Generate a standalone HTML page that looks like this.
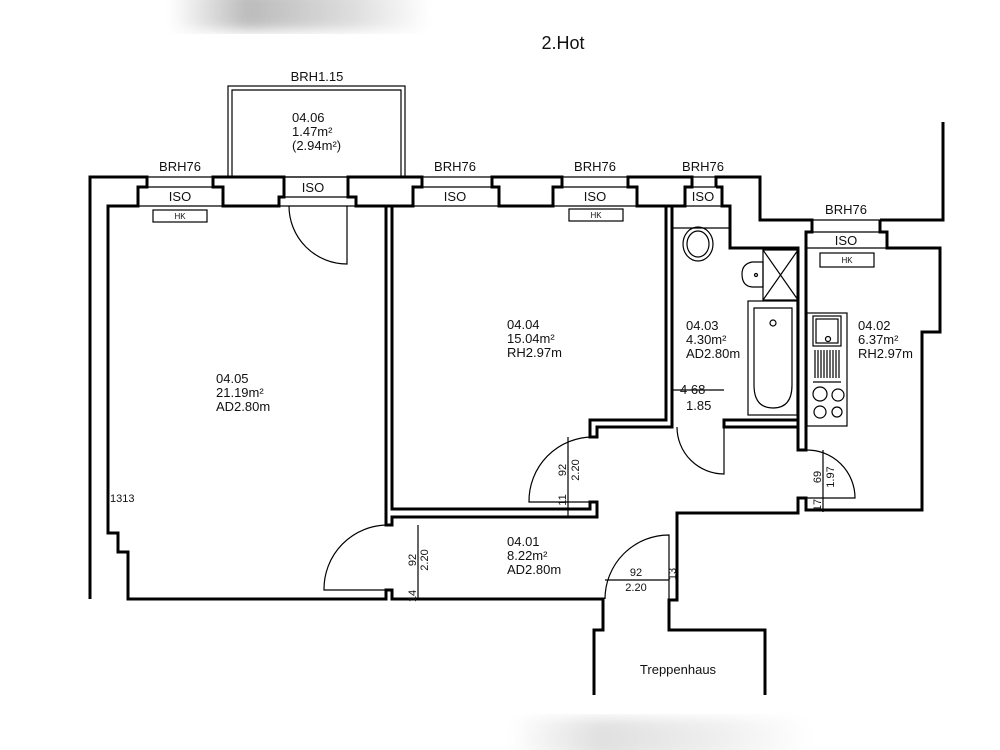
<!DOCTYPE html>
<html><head><meta charset="utf-8"><style>
html,body{margin:0;padding:0;background:#fff;}
svg{display:block;}
text{font-family:"Liberation Sans Narrow","Liberation Sans",sans-serif;fill:#111;}
</style></head><body>
<svg width="1000" height="750" viewBox="0 0 1000 750" xmlns="http://www.w3.org/2000/svg" font-size="13">
<defs>
<linearGradient id="g1" x1="0" x2="1"><stop offset="0" stop-color="#fff"/><stop offset="0.3" stop-color="#bbb"/><stop offset="0.7" stop-color="#ddd"/><stop offset="1" stop-color="#fff"/></linearGradient>
<filter id="bl"><feGaussianBlur stdDeviation="6"/></filter>
</defs>
<rect x="170" y="-10" width="260" height="40" fill="url(#g1)" filter="url(#bl)"/>
<rect x="510" y="718" width="300" height="40" fill="url(#g1)" filter="url(#bl)" opacity="0.45"/>

<g fill="none" stroke="#000" stroke-width="3" stroke-linejoin="miter">
<polyline points="90,599 90,177 147,177 147,187 138,187 138,206 108,206 108,533 118,533 118,552 128,552 128,599 386,599 386,590 392,590 392,599 603,599 603,630 594,630 594,695"/>
<polygon points="213,177 284,177 284,197 279,197 279,206 223,206 223,187 213,187"/>
<polygon points="348,177 422,177 422,187 413,187 413,206 356,206 356,197 348,197"/>
<polygon points="492,177 562,177 562,187 553,187 553,206 499,206 499,187 492,187"/>
<polygon points="628,177 692,177 692,187 685,187 685,206 637,206 637,187 628,187"/>
<polyline points="716,187 716,177 760,177 760,220 812,220 812,232 806,232 806,450 798,450 798,248 730,248 730,206 722,206 722,187 716,187"/>
<polyline points="880,220 943,220 943,122"/>
<polyline points="880,220 880,232 887,232 887,248 940,248 940,332 922,332 922,510 806,510 806,498 798,498 798,513 677,513 677,600 669,600 669,630 765,630 765,695"/>
<polyline points="798,420 724,420 724,427 798,427"/>
<polyline points="386,206 386,525 392,525 392,517 597,517 597,502 590,502 590,509 392,509 392,206"/>
<polyline points="666,206 666,420 590,420 590,437 597,437 597,427 672,427 672,206"/>
</g>
<g fill="none" stroke="#000" stroke-width="1.2">
<rect x="228" y="86" width="177" height="91"/>
<polyline points="232,177 232,90 401,90 401,177"/>
<path d="M147,177H213M147,187H213M138,206H223"/>
<path d="M284,177H348M284,197H348M279,206H356"/>
<path d="M422,177H492M422,187H492M413,206H499"/>
<path d="M562,177H628M562,187H628M553,206H637"/>
<path d="M692,177H716M692,187H716M685,206H722M672,228H730"/>
<path d="M812,220H880M812,232H880M806,248H887"/>
<rect x="153" y="210" width="54" height="12"/>
<rect x="569" y="209" width="54" height="12"/>
<rect x="820" y="253" width="54" height="14"/>
<path d="M289,206 A58,58 0 0 0 347,264 V206"/>
<path d="M388,525 A64,64 0 0 0 324,590 H388"/>
<path d="M593,437 A64,64 0 0 0 529,502 H593"/>
<path d="M677,427 A47,47 0 0 0 724,474 V427"/>
<path d="M806,450 A48,48 0 0 1 855,498 H806"/>
<path d="M605,599 A64,64 0 0 1 669,535 V599"/>
<path d="M568,437V517M418,525V599M605,580H669M823,450V512M672,390H724"/>
<ellipse cx="698" cy="244" rx="15" ry="17"/>
<ellipse cx="698" cy="244" rx="11" ry="13"/>
<path d="M763,262 H752 Q742,264 742,274 Q742,286 752,287 H763 Z"/>
<circle cx="756" cy="275" r="1.5"/>
<rect x="763" y="250" width="35" height="50"/>
<path d="M763,250L798,300M798,250L763,300"/>
<rect x="748" y="301" width="49" height="114"/>
<path d="M754,308 H792 V385 Q792,408 773,408 Q754,408 754,385 Z"/>
<circle cx="773" cy="323" r="3"/>
<rect x="807" y="313" width="40" height="113"/>
<rect x="813" y="316" width="28" height="30"/>
<rect x="816" y="319" width="22" height="24"/>
<circle cx="828" cy="339" r="2.5"/>
<path d="M815,350V378M818,350V378M821,350V378M824,350V378M827,350V378M830,350V378M833,350V378M836,350V378M839,350V378M813,382H841"/>
<circle cx="820" cy="394" r="7"/><circle cx="838" cy="395" r="6"/>
<circle cx="820" cy="412" r="6"/><circle cx="837" cy="412" r="5"/>
</g>

<text x="563" y="49" style="font-size:18px" text-anchor="middle">2.Hot</text>
<text x="317" y="81" text-anchor="middle">BRH1.15</text>
<text x="292" y="122">04.06</text><text x="292" y="136">1.47m²</text><text x="292" y="150">(2.94m²)</text>
<text x="180" y="171" text-anchor="middle">BRH76</text>
<text x="455" y="171" text-anchor="middle">BRH76</text>
<text x="595" y="171" text-anchor="middle">BRH76</text>
<text x="703" y="171" text-anchor="middle">BRH76</text>
<text x="846" y="214" text-anchor="middle">BRH76</text>
<text x="180" y="201" text-anchor="middle">ISO</text>
<text x="313" y="192" text-anchor="middle">ISO</text>
<text x="455" y="201" text-anchor="middle">ISO</text>
<text x="595" y="201" text-anchor="middle">ISO</text>
<text x="703" y="201" text-anchor="middle">ISO</text>
<text x="846" y="245" text-anchor="middle">ISO</text>
<text x="180" y="219" style="font-size:8px" text-anchor="middle">HK</text>
<text x="596" y="218" style="font-size:8px" text-anchor="middle">HK</text>
<text x="847" y="263" style="font-size:8px" text-anchor="middle">HK</text>
<text x="216" y="383">04.05</text><text x="216" y="397">21.19m²</text><text x="216" y="411">AD2.80m</text>
<text x="507" y="329">04.04</text><text x="507" y="343">15.04m²</text><text x="507" y="357">RH2.97m</text>
<text x="686" y="330">04.03</text><text x="686" y="344">4.30m²</text><text x="686" y="358">AD2.80m</text>
<text x="858" y="330">04.02</text><text x="858" y="344">6.37m²</text><text x="858" y="358">RH2.97m</text>
<text x="507" y="546">04.01</text><text x="507" y="560">8.22m²</text><text x="507" y="574">AD2.80m</text>
<text x="680" y="394">4 68</text><text x="686" y="410">1.85</text>
<text x="678" y="674" text-anchor="middle">Treppenhaus</text>
<g style="font-size:11px">
<text transform="translate(566,470) rotate(-90)" text-anchor="middle">92</text>
<text transform="translate(579,470) rotate(-90)" text-anchor="middle">2.20</text>
<text transform="translate(566,500) rotate(-90)" text-anchor="middle">11</text>
<text transform="translate(416,560) rotate(-90)" text-anchor="middle">92</text>
<text transform="translate(428,560) rotate(-90)" text-anchor="middle">2.20</text>
<text transform="translate(416,596) rotate(-90)" text-anchor="middle">14</text>
<text transform="translate(821,477) rotate(-90)" text-anchor="middle">69</text>
<text transform="translate(834,477) rotate(-90)" text-anchor="middle">1.97</text>
<text transform="translate(821,505) rotate(-90)" text-anchor="middle">17</text>
<text x="636" y="576" text-anchor="middle">92</text>
<text x="636" y="591" text-anchor="middle">2.20</text>
<text transform="translate(676,574) rotate(-90)" text-anchor="middle">13</text>
<text x="110" y="502">1313</text>
</g>
</svg>
</body></html>
